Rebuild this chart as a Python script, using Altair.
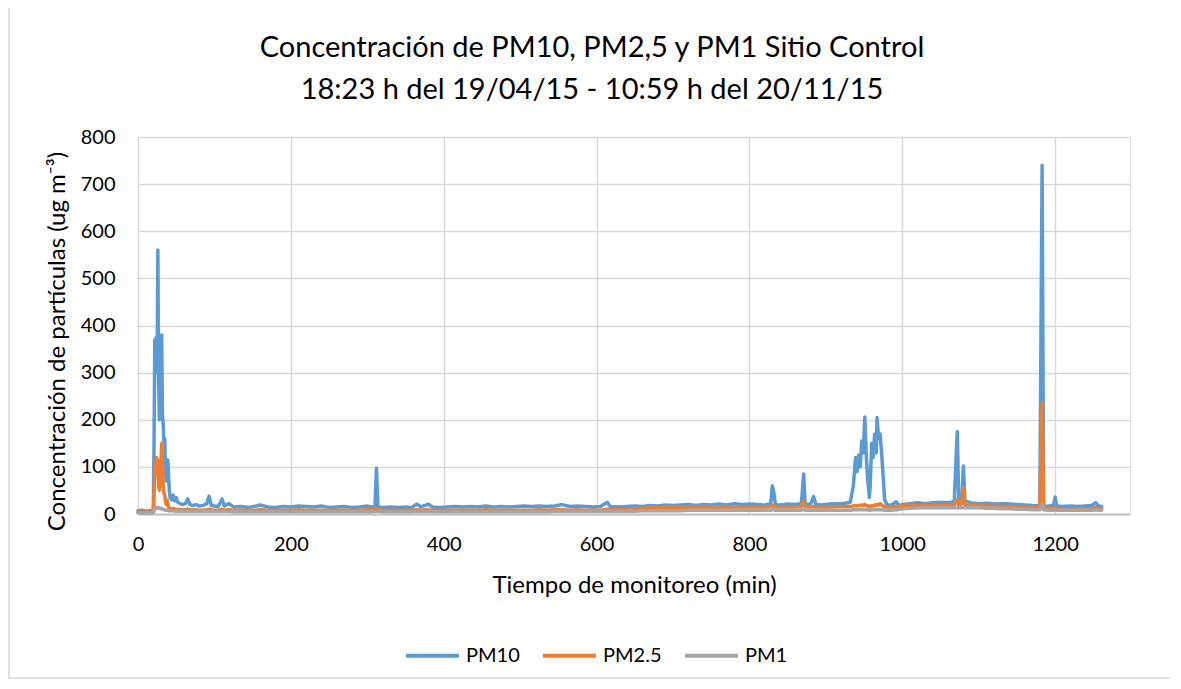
import altair as alt
import pandas as pd

# ---- data ----
minutes = [0, 5, 10, 15, 20, 21, 22, 23, 24, 25, 26, 27, 28, 29, 30, 31, 32, 33, 34, 35,
           36, 37, 38, 39, 40, 41, 42, 44, 46, 48, 50, 52, 55, 58, 62, 65, 68, 72, 76, 80,
           85, 90, 93, 96, 100, 105, 110, 113, 119, 125, 135, 145, 155, 160, 170, 180, 190, 200, 210, 220,
           230, 240, 250, 260, 270, 280, 290, 300, 305, 310, 312, 314, 320, 330, 340, 350, 358, 365, 370, 380,
           385, 395, 405, 415, 425, 435, 445, 455, 465, 475, 485, 495, 505, 515, 525, 535, 545, 555, 565, 575,
           585, 595, 605, 614, 618, 630, 640, 650, 660, 670, 680, 690, 700, 710, 720, 730, 740, 750, 760, 770,
           780, 790, 800, 810, 820, 828, 830, 832, 834, 840, 850, 860, 868, 871, 873, 880, 884, 887, 895, 905,
           915, 925, 932, 936, 939, 941, 943, 945, 947, 949, 951, 953, 955, 957, 958, 960, 962, 964, 966, 967,
           969, 971, 973, 975, 977, 980, 985, 992, 996, 1000, 1010, 1020, 1030, 1040, 1050, 1060, 1068, 1072, 1074, 1078,
           1080, 1082, 1090, 1100, 1110, 1120, 1130, 1140, 1150, 1160, 1170, 1180, 1183, 1185, 1192, 1198, 1200, 1202, 1210, 1220,
           1230, 1240, 1248, 1253, 1257, 1261]

pm10 = [7, 8, 6, 7, 8, 150, 370, 340, 375, 300, 560, 280, 200, 330, 240, 380, 210, 190, 150, 160,
        90, 70, 110, 115, 80, 50, 35, 30, 40, 28, 35, 25, 22, 20, 22, 32, 20, 18, 20, 17,
        18, 22, 38, 18, 17, 16, 32, 17, 22, 15, 16, 14, 17, 19, 15, 14, 16, 15, 17, 16,
        15, 17, 14, 15, 16, 14, 15, 17, 15, 16, 97, 15, 14, 15, 14, 15, 14, 21, 15, 21,
        15, 14, 15, 16, 15, 16, 15, 17, 15, 16, 15, 16, 17, 16, 17, 16, 17, 20, 16, 17,
        16, 15, 16, 25, 16, 15, 16, 17, 16, 18, 17, 19, 18, 19, 20, 18, 20, 19, 21, 19,
        22, 20, 21, 20, 19, 22, 60, 45, 20, 19, 21, 20, 22, 85, 20, 21, 37, 20, 19, 21,
        22, 23, 25, 60, 120, 90, 125, 100, 155, 130, 206, 120, 70, 35, 60, 150, 120, 170, 130, 205,
        160, 170, 130, 80, 30, 20, 18, 26, 18, 20, 22, 24, 22, 24, 25, 24, 26, 175, 25, 30,
        102, 28, 24, 22, 23, 21, 22, 21, 20, 19, 18, 17, 740, 16, 17, 18, 36, 17, 16, 17,
        16, 17, 18, 24, 17, 16]

pm25 = [4, 4, 4, 4, 5, 40, 100, 85, 120, 90, 115, 60, 50, 70, 100, 150, 110, 60, 45, 40,
        25, 20, 30, 22, 14, 13, 12, 11, 12, 10, 10, 10, 9, 9, 9, 10, 9, 9, 9, 8,
        8, 9, 10, 9, 8, 8, 10, 8, 9, 8, 8, 8, 8, 9, 8, 8, 8, 8, 9, 8,
        8, 8, 8, 8, 8, 8, 8, 9, 9, 10, 12, 10, 8, 8, 8, 8, 8, 9, 8, 9,
        8, 8, 8, 8, 8, 8, 8, 9, 8, 8, 8, 8, 8, 8, 9, 8, 9, 9, 8, 9,
        8, 8, 8, 10, 9, 9, 10, 11, 12, 13, 13, 14, 14, 14, 15, 14, 15, 14, 15, 14,
        15, 15, 15, 15, 15, 16, 18, 17, 15, 15, 15, 15, 16, 27, 16, 15, 16, 15, 15, 15,
        16, 16, 16, 17, 18, 17, 18, 18, 19, 18, 20, 18, 17, 16, 16, 18, 17, 19, 18, 20,
        19, 22, 19, 17, 16, 15, 15, 16, 16, 17, 18, 18, 17, 18, 18, 18, 19, 30, 19, 22,
        55, 20, 18, 17, 17, 16, 16, 16, 15, 14, 13, 13, 235, 12, 12, 12, 14, 12, 11, 11,
        11, 11, 11, 14, 11, 11]

pm1 = [2, 2, 2, 2, 3, 8, 12, 12, 14, 13, 12, 14, 13, 12, 12, 11, 10, 10, 9, 9,
       8, 8, 8, 8, 7, 7, 7, 7, 7, 6, 6, 6, 6, 6, 6, 6, 6, 6, 6, 6,
       6, 6, 6, 6, 6, 6, 6, 6, 6, 5, 5, 5, 5, 5, 5, 5, 5, 5, 5, 5,
       5, 5, 5, 5, 5, 5, 5, 5, 5, 6, 6, 6, 5, 5, 5, 5, 5, 6, 5, 6,
       5, 5, 5, 5, 5, 5, 5, 5, 5, 5, 5, 5, 5, 5, 5, 5, 6, 6, 6, 6,
       6, 6, 6, 6, 6, 6, 6, 6, 7, 7, 7, 7, 7, 7, 8, 8, 8, 8, 8, 8,
       8, 8, 8, 8, 8, 8, 9, 9, 8, 8, 8, 8, 8, 10, 8, 8, 8, 8, 8, 8,
       8, 8, 8, 9, 9, 9, 9, 9, 9, 9, 9, 9, 9, 8, 8, 9, 9, 9, 9, 9,
       9, 9, 9, 9, 8, 8, 8, 9, 10, 11, 12, 13, 13, 13, 13, 13, 13, 14, 13, 13,
       14, 13, 13, 13, 12, 12, 11, 11, 10, 10, 9, 9, 20, 9, 8, 8, 9, 8, 8, 8,
       8, 8, 8, 9, 8, 8]

series_names = ["PM10", "PM2.5", "PM1"]
series_colors = ["#5B9BD5", "#ED7D31", "#A5A5A5"]
x_ticks = [0, 200, 400, 600, 800, 1000, 1200]
y_ticks = [0, 100, 200, 300, 400, 500, 600, 700, 800]

title_lines = ["Concentración de PM10, PM2,5 y PM1 Sitio Control",
               "18:23 h del 19/04/15 - 10:59 h del 20/11/15"]
x_title = "Tiempo de monitoreo (min)"
y_title = "Concentración de partículas (ug m⁻³)"

rows = []
for name, vals in zip(series_names, [pm10, pm25, pm1]):
    for m, v in zip(minutes, vals):
        rows.append({"min": m, "conc": v, "serie": name})
df = pd.DataFrame(rows)

FONT = "Lato"
W, H = 992, 377

color = alt.Color(
    "serie:N",
    scale=alt.Scale(domain=series_names, range=series_colors),
    legend=alt.Legend(
        title=None, orient="none", direction="horizontal",
        legendX=266, legendY=490, symbolType="stroke", symbolSize=2809,
        symbolStrokeWidth=4, labelFont=FONT, labelFontSize=20, labelColor="black",
        labelOffset=5, columnPadding=15, padding=0,
    ),
)

x_enc = alt.X(
    "min:Q",
    scale=alt.Scale(domain=[0, 1298], nice=False, zero=False),
    axis=alt.Axis(
        values=x_ticks, format="d", title=x_title, grid=True, gridColor="#D9D9D9", gridWidth=1.5,
        domainColor="#BFBFBF", domainWidth=2, ticks=False, tickSize=0,
        labelFont=FONT, labelFontSize=20, labelColor="black", labelPadding=20,
        titleFont=FONT, titleFontSize=24, titleFontWeight="normal", titleColor="black",
        titleX=496, titleY=78, titleBaseline="alphabetic", titleAlign="center",
        labelFlush=False,
    ),
)
y_enc = alt.Y(
    "conc:Q",
    scale=alt.Scale(domain=[0, 800], nice=False),
    axis=alt.Axis(
        values=y_ticks, title=y_title, grid=True, gridColor="#D9D9D9", gridWidth=1.5,
        domain=False, ticks=False, tickSize=0,
        labelFont=FONT, labelFontSize=20, labelColor="black", labelPadding=23,
        titleFont=FONT, titleFontSize=24, titleFontWeight="normal", titleColor="black",
        titleX=-74, titleY=204, titleAngle=-90, titleBaseline="alphabetic", titleAlign="center",
    ),
)

base = alt.Chart(df)
layers = []
for name in series_names:
    layers.append(
        base.transform_filter(alt.datum.serie == name)
        .mark_line(strokeWidth=3.5, strokeCap="round", strokeJoin="round")
        .encode(x=x_enc, y=y_enc, color=color, order=alt.Order("min:Q"))
    )

frame = alt.Chart(alt.Data(values=[{"a": 1}])).mark_rect(
    fill="white", fillOpacity=0, stroke="#D9D9D9", strokeWidth=1.5
).encode(
    x=alt.value(-129), x2=alt.value(1034), y=alt.value(-137), y2=alt.value(541)
)

chart = alt.layer(frame, *layers).properties(
    width=W, height=H,
    title=alt.TitleParams(
        text=title_lines, font=FONT, fontSize=29, fontWeight="normal", color="black",
        anchor="middle", frame="group", dx=-42, offset=0, dy=106, lineHeight=42,
    ),
    autosize=alt.AutoSizeParams(type="none"),
    padding={"left": 130, "top": 129, "right": 40, "bottom": 165},
).configure_view(stroke=None).configure(background="white")

chart.save("out.html", embed_options={"renderer": "svg", "actions": False})
